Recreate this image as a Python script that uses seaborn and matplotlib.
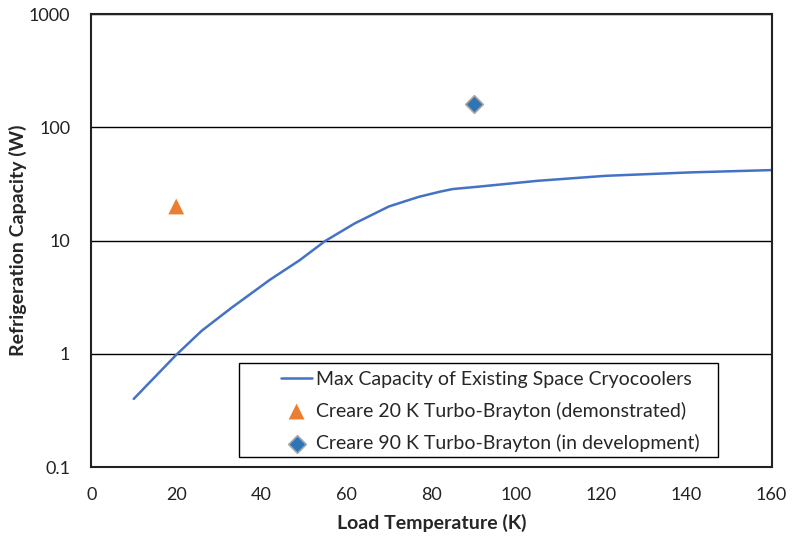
import seaborn as sns
import matplotlib.pyplot as plt
from matplotlib.patches import Rectangle
import pandas as pd

# data
temp_k = [10, 20, 26, 33, 42, 49, 55, 62, 70, 77, 82, 85, 91, 105, 121, 141, 160]
capacity_w = [0.40, 0.98, 1.6, 2.55, 4.5, 6.7, 9.9, 14.2, 20, 24.3, 27, 28.5, 29.9, 33.7, 37.3, 40, 41.9]
tb20_x = [20]
tb20_y = [20]
tb90_x = [90]
tb90_y = [160]

df = pd.DataFrame({'T': temp_k, 'Q': capacity_w})

sns.set_style('white')
plt.rcParams['font.family'] = ['Lato', 'DejaVu Sans']

fig, ax = plt.subplots(figsize=(7.93, 5.40), dpi=100)
fig.subplots_adjust(left=0.115, right=0.973, top=0.974, bottom=0.135)

sns.lineplot(data=df, x='T', y='Q', ax=ax, color='#4472C4', linewidth=1.8,
             label='Max Capacity of Existing Space Cryocoolers')
sns.scatterplot(x=tb20_x, y=tb20_y, ax=ax, marker='^', s=130, color='#ED7D31',
                edgecolor='none', label='Creare 20 K Turbo-Brayton (demonstrated)')
sns.scatterplot(x=tb90_x, y=tb90_y, ax=ax, marker='D', s=80, color='#2E75B6',
                edgecolor='#A5A5A5', linewidth=1.2, label='Creare 90 K Turbo-Brayton (in development)')

ax.set_yscale('log')
ax.set_xlim(0, 160)
ax.set_ylim(0.1, 1000)
ax.set_xticks(range(0, 161, 20))
ax.set_yticks([0.1, 1, 10, 100, 1000])
ax.set_yticklabels(['0.1', '1', '10', '100', '1000'])
ax.minorticks_off()
ax.yaxis.grid(True, color='black', linewidth=1.0)
ax.set_axisbelow(True)
for s in ax.spines.values():
    s.set_color('#222222')
    s.set_linewidth(1.5)
ax.tick_params(axis='x', direction='in', length=6, width=1.2, labelsize=13, pad=14, colors='#222222')
ax.tick_params(axis='y', length=0, labelsize=13, pad=15, colors='#222222')

ax.set_xlabel('Load Temperature (K)', fontsize=14, fontweight='bold', labelpad=8)
ax.set_ylabel('Refrigeration Capacity (W)', fontsize=14, fontweight='bold', labelpad=1)

# legend box drawn separately (wide left margin like the original)
ax.add_patch(Rectangle((0.2173, 0.022), 0.7034, 0.2075, transform=ax.transAxes,
                       facecolor='white', edgecolor='black', linewidth=1.0, zorder=4))
leg = ax.legend(loc='upper left', bbox_to_anchor=(0.279, 0.213), fontsize=14,
                frameon=False, borderpad=0, borderaxespad=0,
                handlelength=1.6, handletextpad=0.2, labelspacing=0.72)
leg.set_zorder(5)

plt.savefig('out.png', dpi=100)
